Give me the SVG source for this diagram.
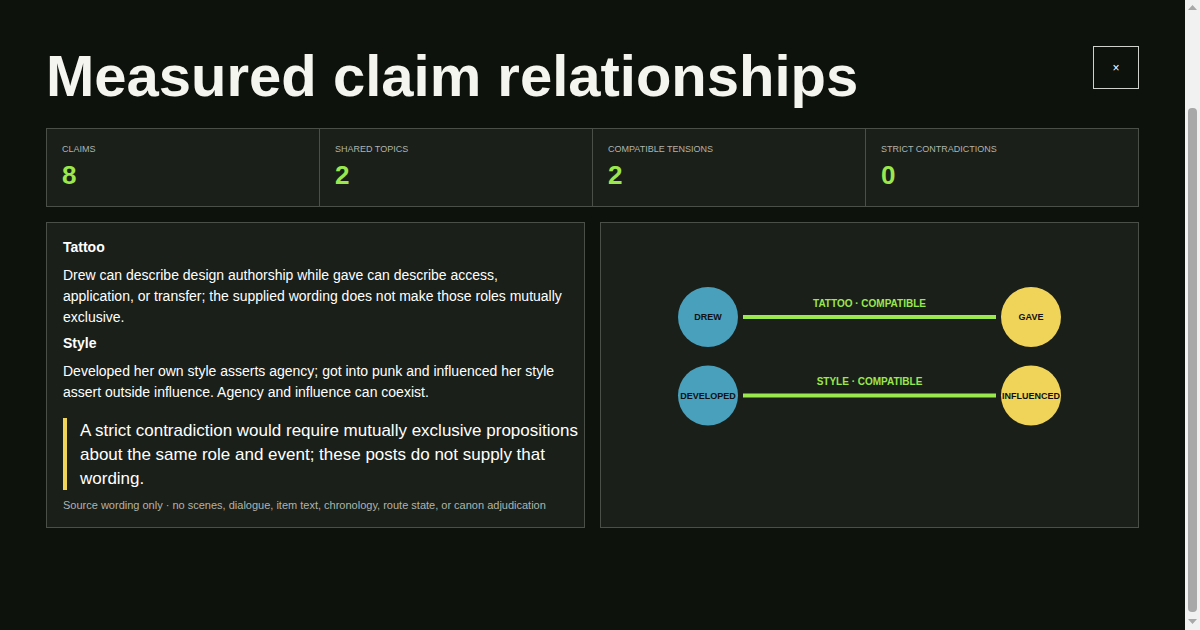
<svg xmlns="http://www.w3.org/2000/svg" width="1200" height="630" viewBox="0 0 1200 630">
<style>
text{font-family:"Liberation Sans",Arial,sans-serif}
.card{fill:#1a1f19;stroke:#4a4f48;stroke-width:1}
.lab{fill:#b0b4ad;font-size:9px}
.num{fill:#9be84e;font-size:26px;font-weight:bold}
.h{fill:#ffffff;font-size:14px;font-weight:bold}
.p{fill:#ffffff;font-size:14px}
.q{fill:#ffffff;font-size:17px}
.edge{stroke:#9be84e;stroke-width:4}
.el{fill:#9be84e;font-size:10px;font-weight:bold;text-anchor:middle}
.nl{fill:#111;font-size:9px;font-weight:bold;text-anchor:middle}
</style>
<rect width="1200" height="630" fill="#0d120d"/>
<rect x="1185" y="0" width="15" height="630" fill="#f1f1f1"/>
<rect x="1188" y="108" width="9" height="504" rx="4" fill="#a8a8a8"/>
<path d="M1188 10 L1192.5 5 L1197 10Z M1188 619 L1192.5 624 L1197 619Z" fill="#a8a8a8"/>
<text x="46" y="96" fill="#f4f5ee" font-size="58" font-weight="bold">Measured claim relationships</text>
<rect x="1093.5" y="46.5" width="45" height="42" fill="none" stroke="#cfd2cc"/>
<text x="1116" y="72" fill="#fff" font-size="12" text-anchor="middle">×</text>
<rect class="card" x="46.5" y="128.5" width="1092" height="78"/>
<line x1="319.5" y1="128.5" x2="319.5" y2="206.5" stroke="#4a4f48"/>
<line x1="592.5" y1="128.5" x2="592.5" y2="206.5" stroke="#4a4f48"/>
<line x1="865.5" y1="128.5" x2="865.5" y2="206.5" stroke="#4a4f48"/>
<text class="lab" x="62" y="152">CLAIMS</text><text class="num" x="62" y="184">8</text>
<text class="lab" x="335" y="152">SHARED TOPICS</text><text class="num" x="335" y="184">2</text>
<text class="lab" x="608" y="152">COMPATIBLE TENSIONS</text><text class="num" x="608" y="184">2</text>
<text class="lab" x="881" y="152">STRICT CONTRADICTIONS</text><text class="num" x="881" y="184">0</text>
<rect class="card" x="46.5" y="222.5" width="538" height="305"/>
<text class="h" x="63" y="252">Tattoo</text>
<text class="p" x="63" y="280">Drew can describe design authorship while gave can describe access,</text>
<text class="p" x="63" y="301">application, or transfer; the supplied wording does not make those roles mutually</text>
<text class="p" x="63" y="322">exclusive.</text>
<text class="h" x="63" y="348">Style</text>
<text class="p" x="63" y="376">Developed her own style asserts agency; got into punk and influenced her style</text>
<text class="p" x="63" y="397">assert outside influence. Agency and influence can coexist.</text>
<rect x="63" y="418" width="4" height="72" fill="#f0d45a"/>
<text class="q" x="80" y="436">A strict contradiction would require mutually exclusive propositions</text>
<text class="q" x="80" y="460">about the same role and event; these posts do not supply that</text>
<text class="q" x="80" y="484">wording.</text>
<text x="63" y="509" fill="#b0b4ad" font-size="11">Source wording only · no scenes, dialogue, item text, chronology, route state, or canon adjudication</text>
<rect class="card" x="600.5" y="222.5" width="538" height="305"/>
<g id="edges">
<line class="edge" x1="743" y1="317" x2="996" y2="317"/>
<text class="el" x="869.5" y="307">TATTOO · COMPATIBLE</text>
<line class="edge" x1="743" y1="395.5" x2="996" y2="395.5"/>
<text class="el" x="869.5" y="385">STYLE · COMPATIBLE</text>
</g>
<g id="drew"><circle cx="708" cy="317" r="30" fill="#48a0bd"/><text class="nl" x="708" y="320">DREW</text></g>
<g id="gave"><circle cx="1031" cy="317" r="30" fill="#f0d45a"/><text class="nl" x="1031" y="320">GAVE</text></g>
<g id="developed"><circle cx="708" cy="395.5" r="30" fill="#48a0bd"/><text class="nl" x="708" y="399">DEVELOPED</text></g>
<g id="influenced"><circle cx="1031" cy="395.5" r="30" fill="#f0d45a"/><text class="nl" x="1031" y="399">INFLUENCED</text></g>
</svg>
